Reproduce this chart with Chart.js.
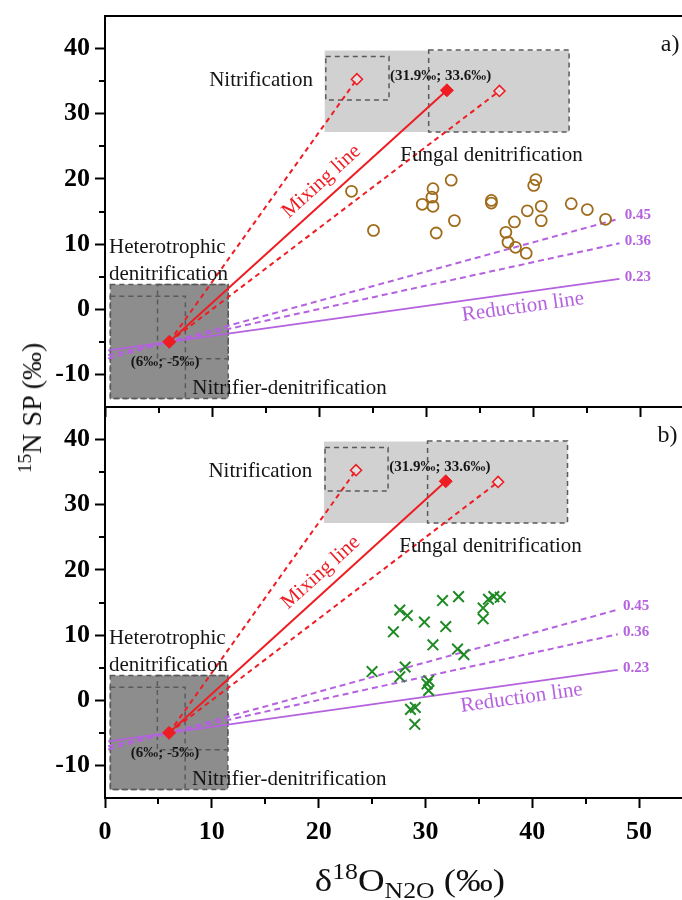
<!DOCTYPE html>
<html>
<head>
<meta charset="utf-8">
<script src="https://cdn.jsdelivr.net/npm/chart.js@4.4.1/dist/chart.umd.min.js"></script>
<style>
  html, body { margin: 0; padding: 0; background: #fff; overflow: hidden; }
  body { width: 682px; height: 900px; position: relative; font-family: "Liberation Serif", serif; }
  canvas { position: absolute; left: 0; }
  #panelA { top: 0; }
  #panelB { top: 390px; }
  .axis-title { position: absolute; white-space: nowrap; color: #111; line-height: 1; }
  .axis-title sup, .axis-title sub { font-size: 0.7em; line-height: 0; }
  #yTitle { font-size: 28px; left: 32px; top: 408px; transform: translate(-50%, -50%) rotate(-90deg); }
  #xTitle { font-size: 32px; left: 410px; top: 880px; transform: translate(-50%, -50%) scaleX(1.15); }
</style>
</head>
<body>
<canvas id="panelA" width="702" height="430"></canvas>
<canvas id="panelB" width="702" height="510"></canvas>
<div id="yTitle" class="axis-title"><sup>15</sup>N SP (‰)</div>
<div id="xTitle" class="axis-title">δ<sup>18</sup>O<sub>N2O</sub> (‰)</div>
<script>
// end-members of the mixing line and its spread
const mixStart = [6, -5];
const mixEnd = [31.9, 33.6];
const mixUpper = [23.5, 35.3];
const mixLower = [36.8, 33.5];

// N2O reduction slopes, drawn from the heterotrophic end-member
const reductionSlopes = [0.23, 0.36, 0.45];
const reductionRange = [0.3, 48];

// source ranges: [xMin, xMax, yMin, yMax]
const upperFill = [20.5, 43.3, 27.2, 39.7];
const lowerFill = [0.5, 11.5, -13.7, 3.8];
const nitrificationBox = [20.6, 26.5, 32.1, 38.8];
const fungalBox = [30.2, 43.3, 27.2, 39.8];
const heteroBox = [0.5, 7.5, -13.7, 2.0];
const nitrifierBox = [4.9, 11.5, -7.6, 3.8];

// samples, panel a
const sampleAX = [23.0, 25.05, 29.6, 30.6, 30.5, 30.6, 30.9, 32.3, 32.6, 36.05, 36.05, 37.4, 37.6, 38.2, 38.3, 39.4, 39.3, 40.2, 40.0, 40.7, 40.7, 43.5, 45.0, 46.7];
const sampleAY = [18.1, 12.1, 16.1, 18.5, 17.2, 15.8, 11.7, 19.8, 13.6, 16.7, 16.3, 11.8, 10.3, 13.4, 9.5, 15.1, 8.6, 19.9, 19.0, 15.8, 13.6, 16.2, 15.3, 13.8];

// samples, panel b
const sampleBX = [25.0, 27.0, 27.6, 28.3, 27.6, 28.1, 28.6, 29.05, 29.0, 29.9, 30.7, 30.15, 30.3, 30.3, 31.6, 31.9, 33.1, 33.0, 33.6, 35.4, 35.4, 35.9, 36.4, 37.0];
const sampleBY = [4.4, 10.5, 13.85, 13.0, 3.6, 5.1, -1.4, -1.1, -3.7, 12.0, 8.5, 2.5, 1.5, 3.0, 15.3, 11.3, 15.9, 7.85, 7.0, 14.15, 12.5, 15.5, 15.9, 15.8];

const xTicks = [0, 10, 20, 30, 40, 50];
const yTicks = [-10, 0, 10, 20, 30, 40];
const xMinor = [5, 15, 25, 35, 45];
const yMinor = [-5, 5, 15, 25, 35];

const RED = '#ee1d23';
const PURPLE = '#b562df';
const INK = '#151515';
const SERIF = '"Liberation Serif", "Times New Roman", serif';

function pairs(xs, ys) {
    return xs.map((x, i) => ({ x: x, y: ys[i] }));
}

function segment(a, b, color, dash) {
    return {
        data: [{ x: a[0], y: a[1] }, { x: b[0], y: b[1] }],
        showLine: true,
        borderColor: color,
        borderWidth: 2,
        borderDash: dash,
        pointRadius: 0,
        order: 3
    };
}

function reductionLine(slope) {
    const y = x => mixStart[1] + slope * (x - mixStart[0]);
    const a = [reductionRange[0], y(reductionRange[0])];
    const b = [reductionRange[1], y(reductionRange[1])];
    return segment(a, b, PURPLE, slope === 0.23 ? [] : [6, 4]);
}

// labels placed in data units
const notes = [
    { text: 'Nitrification', x: 19.4, y: 35.1, align: 'right', font: '21px ' + SERIF, color: INK },
    { text: '(31.9‰; 33.6‰)', x: 26.6, y: 35.75, align: 'left', font: 'bold 15px ' + SERIF, color: INK },
    { text: 'Fungal denitrification', x: 27.55, y: 23.6, align: 'left', font: '21px ' + SERIF, color: INK },
    { text: 'Heterotrophic', x: 0.37, y: 9.5, align: 'left', font: '21px ' + SERIF, color: INK },
    { text: 'denitrification', x: 0.37, y: 5.4, align: 'left', font: '21px ' + SERIF, color: INK },
    { text: '(6‰; -5‰)', x: 2.4, y: -8.15, align: 'left', font: 'bold 15px ' + SERIF, color: INK },
    { text: 'Nitrifier-denitrification', x: 8.15, y: -12.1, align: 'left', font: '21px ' + SERIF, color: INK },
    { text: '0.45', x: 48.5, y: 14.4, align: 'left', font: 'bold 15px ' + SERIF, color: PURPLE },
    { text: '0.36', x: 48.5, y: 10.45, align: 'left', font: 'bold 15px ' + SERIF, color: PURPLE },
    { text: '0.23', x: 48.5, y: 4.9, align: 'left', font: 'bold 15px ' + SERIF, color: PURPLE }
];

const panelDecor = {
    id: 'panelDecor',
    beforeDatasetsDraw(chart) {
        const { ctx, scales: { x, y } } = chart;
        const rect = b => {
            const l = x.getPixelForValue(b[0]), t = y.getPixelForValue(b[3]);
            return [l, t, x.getPixelForValue(b[1]) - l, y.getPixelForValue(b[2]) - t];
        };
        ctx.save();
        ctx.fillStyle = '#d1d1d1';
        ctx.fillRect(...rect(upperFill));
        ctx.fillStyle = '#8d8d8d';
        ctx.fillRect(...rect(lowerFill));
        ctx.setLineDash([5, 4]);
        ctx.lineWidth = 1.5;
        ctx.strokeStyle = '#5a5a5a';
        [lowerFill, nitrificationBox, fungalBox, heteroBox, nitrifierBox].forEach(b => ctx.strokeRect(...rect(b)));
        ctx.restore();
    },
    afterDatasetsDraw(chart, args, opts) {
        const { ctx, scales: { x, y } } = chart;
        ctx.save();
        ctx.textBaseline = 'middle';
        notes.forEach(n => {
            ctx.font = n.font;
            ctx.fillStyle = n.color;
            ctx.textAlign = n.align;
            ctx.fillText(n.text, x.getPixelForValue(n.x), y.getPixelForValue(n.y));
        });

        // rotated line captions follow the drawn slopes
        const angle = (a, b) => Math.atan2(y.getPixelForValue(b[1]) - y.getPixelForValue(a[1]),
                                           x.getPixelForValue(b[0]) - x.getPixelForValue(a[0]));
        const rotated = (text, px, py, rot, color) => {
            ctx.save();
            ctx.translate(x.getPixelForValue(px), y.getPixelForValue(py));
            ctx.rotate(rot);
            ctx.textAlign = 'center';
            ctx.font = '21px ' + SERIF;
            ctx.fillStyle = color;
            ctx.fillText(text, 0, 0);
            ctx.restore();
        };
        rotated('Mixing line', 20.2, 19.6, angle(mixStart, mixEnd), RED);
        const red = reductionSlopes[0];
        rotated('Reduction line', 39.0, 0.35, angle([0, 0], [1, red]), PURPLE);

        ctx.font = '24px ' + SERIF;
        ctx.fillStyle = INK;
        ctx.textAlign = 'right';
        ctx.fillText(opts.label, x.getPixelForValue(53.6), y.getPixelForValue(40.6));
        ctx.restore();
    },
    afterDraw(chart) {
        const { ctx, chartArea: a, scales: { x, y } } = chart;
        ctx.save();
        ctx.strokeStyle = '#000';
        ctx.lineWidth = 2;
        ctx.strokeRect(a.left, a.top, a.right - a.left, a.bottom - a.top);
        ctx.beginPath();
        xMinor.forEach(v => {
            const px = Math.round(x.getPixelForValue(v));
            ctx.moveTo(px, a.bottom);
            ctx.lineTo(px, a.bottom + 6);
        });
        yMinor.forEach(v => {
            const py = Math.round(y.getPixelForValue(v));
            ctx.moveTo(a.left, py);
            ctx.lineTo(a.left - 6, py);
        });
        ctx.stroke();
        ctx.restore();
    }
};

// axes keep a fixed size and ask for no extra room around the plot
function fixAxis(size, key) {
    return s => {
        s[key] = size;
        s.paddingTop = 0;
        s.paddingBottom = 0;
        s.paddingLeft = 0;
        s.paddingRight = 0;
    };
}

function makePanel(id, label, samples, sampleStyle, showXLabels, padTop, xAxisHeight) {
    const datasets = [
        Object.assign({ data: samples, order: 0 }, sampleStyle),
        {
            data: pairs([mixStart[0], mixEnd[0]], [mixStart[1], mixEnd[1]]),
            pointStyle: 'rectRot', pointRadius: 6.5, backgroundColor: RED, borderColor: RED, borderWidth: 1,
            order: 1
        },
        {
            data: pairs([mixUpper[0], mixLower[0]], [mixUpper[1], mixLower[1]]),
            pointStyle: 'rectRot', pointRadius: 5.5, backgroundColor: 'rgba(255,255,255,0.35)', borderColor: RED, borderWidth: 1.6,
            order: 1
        },
        segment(mixStart, mixEnd, RED, []),
        segment(mixStart, mixUpper, RED, [5, 4]),
        segment(mixStart, mixLower, RED, [5, 4])
    ];
    reductionSlopes.forEach(s => datasets.push(reductionLine(s)));

    return new Chart(document.getElementById(id), {
        type: 'scatter',
        data: { datasets: datasets },
        options: {
            responsive: false,
            animation: false,
            devicePixelRatio: 1,
            layout: { padding: { top: padTop, left: 0, right: 0, bottom: 0 } },
            plugins: {
                legend: { display: false },
                tooltip: { enabled: false },
                panelDecor: { label: label }
            },
            scales: {
                x: {
                    type: 'linear',
                    min: 0,
                    max: 55,
                    border: { display: true, color: '#000', width: 2 },
                    grid: {
                        drawOnChartArea: false,
                        tickLength: 10,
                        tickWidth: 2,
                        tickColor: c => xTicks.includes(c.tick.value) ? '#000' : 'rgba(0,0,0,0)'
                    },
                    ticks: {
                        stepSize: 5,
                        autoSkip: false,
                        maxRotation: 0,
                        padding: 9,
                        color: '#000',
                        font: { family: SERIF, size: 26, weight: 'bold' },
                        callback: v => (showXLabels && xTicks.includes(v)) ? v : ''
                    },
                    afterFit: fixAxis(xAxisHeight, 'height')
                },
                y: {
                    min: -15,
                    max: 45,
                    border: { display: true, color: '#000', width: 2 },
                    grid: {
                        drawOnChartArea: false,
                        tickLength: 10,
                        tickWidth: 2,
                        tickColor: c => yTicks.includes(c.tick.value) ? '#000' : 'rgba(0,0,0,0)'
                    },
                    ticks: {
                        stepSize: 5,
                        autoSkip: false,
                        padding: 5,
                        color: '#000',
                        font: { family: SERIF, size: 26, weight: 'bold' },
                        callback: v => yTicks.includes(v) ? v : ''
                    },
                    afterFit: fixAxis(105, 'width')
                }
            }
        },
        plugins: [panelDecor]
    });
}

makePanel('panelA', 'a)', pairs(sampleAX, sampleAY), {
    pointStyle: 'circle', pointRadius: 5.5, borderWidth: 1.8,
    borderColor: '#a06c1c', backgroundColor: 'rgba(0,0,0,0)'
}, false, 16, 23);

makePanel('panelB', 'b)', pairs(sampleBX, sampleBY), {
    pointStyle: 'crossRot', pointRadius: 7.5, borderWidth: 2,
    borderColor: '#1f8a24', backgroundColor: '#1f8a24'
}, true, 17, 102);
</script>
</body>
</html>
